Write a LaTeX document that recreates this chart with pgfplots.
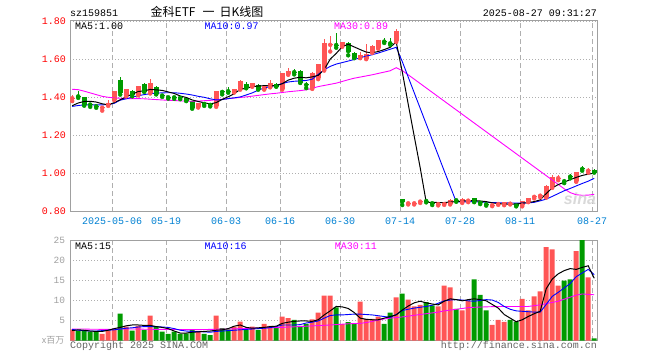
\documentclass[border=0pt]{standalone}
\usepackage{fontspec}
\setmonofont{Liberation Mono}
\setsansfont{Liberation Sans}
\newfontfamily\cjk{Noto Sans CJK SC}
\usepackage{pgfplots}
\pgfplotsset{compat=1.18}
\usepackage{pgfplotstable}
\definecolor{upc}{RGB}{255,85,85}
\definecolor{dnc}{RGB}{0,155,0}
\definecolor{framec}{RGB}{160,160,160}
\definecolor{gridc}{RGB}{175,175,175}
\definecolor{datec}{RGB}{0,128,210}
\definecolor{ma10c}{RGB}{0,0,255}
\definecolor{ma30c}{RGB}{255,0,255}
\definecolor{volc}{RGB}{160,160,160}
\definecolor{footc}{RGB}{100,100,100}
\newcommand\mono{\fontsize{10bp}{12bp}\selectfont\ttfamily}

\pgfplotstableread{
x o h l c u
0 1.395 1.412 1.380 1.395 1
1 1.405 1.435 1.397 1.405 0
2 1.400 1.403 1.356 1.362 0
3 1.362 1.372 1.350 1.362 0
4 1.353 1.360 1.345 1.353 0
5 1.345 1.352 1.330 1.349 1
6 1.360 1.384 1.355 1.367 1
7 1.388 1.430 1.385 1.428 1
8 1.493 1.505 1.414 1.427 0
9 1.409 1.442 1.405 1.440 1
10 1.435 1.440 1.405 1.413 0
11 1.414 1.458 1.410 1.456 1
12 1.470 1.474 1.428 1.432 0
13 1.423 1.497 1.420 1.474 1
14 1.456 1.460 1.415 1.418 0
15 1.409 1.415 1.402 1.409 0
16 1.400 1.408 1.393 1.400 0
17 1.400 1.407 1.392 1.400 0
18 1.397 1.404 1.390 1.397 0
19 1.398 1.402 1.380 1.384 0
20 1.380 1.382 1.340 1.344 0
21 1.350 1.367 1.346 1.365 1
22 1.365 1.372 1.355 1.365 0
23 1.360 1.367 1.352 1.360 0
24 1.356 1.430 1.350 1.428 1
25 1.428 1.440 1.415 1.428 0
26 1.432 1.455 1.424 1.432 0
27 1.428 1.445 1.425 1.440 1
28 1.444 1.492 1.440 1.484 1
29 1.470 1.478 1.447 1.453 0
30 1.458 1.476 1.455 1.472 1
31 1.467 1.470 1.440 1.444 0
32 1.444 1.465 1.440 1.458 1
33 1.455 1.490 1.452 1.472 1
34 1.472 1.476 1.455 1.458 0
35 1.444 1.528 1.440 1.525 1
36 1.521 1.555 1.518 1.535 1
37 1.532 1.548 1.520 1.532 0
38 1.540 1.545 1.475 1.479 0
39 1.465 1.480 1.448 1.465 0
40 1.447 1.530 1.444 1.526 1
41 1.500 1.575 1.495 1.571 1
42 1.546 1.707 1.540 1.683 1
43 1.675 1.720 1.640 1.675 1
44 1.674 1.737 1.660 1.674 0
45 1.668 1.690 1.665 1.686 1
46 1.686 1.690 1.620 1.642 0
47 1.634 1.638 1.605 1.610 0
48 1.610 1.640 1.605 1.621 1
49 1.603 1.677 1.600 1.625 1
50 1.637 1.672 1.633 1.668 1
51 1.660 1.702 1.655 1.698 1
52 1.692 1.712 1.685 1.692 0
53 1.683 1.710 1.675 1.683 0
54 1.695 1.756 1.690 1.747 1
55 0.865 0.866 0.835 0.853 0
56 0.844 0.850 0.838 0.844 1
57 0.844 0.850 0.838 0.844 1
58 0.853 0.860 0.846 0.853 1
59 0.856 0.862 0.849 0.856 0
60 0.844 0.852 0.835 0.844 0
61 0.840 0.846 0.833 0.840 1
62 0.840 0.850 0.836 0.843 1
63 0.842 0.866 0.838 0.861 1
64 0.860 0.866 0.852 0.860 0
65 0.850 0.870 0.846 0.866 1
66 0.858 0.866 0.850 0.858 1
67 0.870 0.874 0.850 0.853 0
68 0.847 0.853 0.840 0.847 0
69 0.839 0.845 0.832 0.839 0
70 0.834 0.840 0.829 0.834 1
71 0.840 0.844 0.836 0.840 1
72 0.837 0.848 0.834 0.847 1
73 0.842 0.846 0.838 0.842 1
74 0.844 0.846 0.828 0.832 0
75 0.833 0.858 0.828 0.855 1
76 0.852 0.872 0.850 0.869 1
77 0.878 0.886 0.870 0.878 1
78 0.884 0.892 0.876 0.884 1
79 0.877 0.940 0.874 0.930 1
80 0.930 0.995 0.925 0.980 1
81 0.976 0.990 0.965 0.976 1
82 0.960 0.970 0.950 0.960 0
83 0.984 0.998 0.975 0.984 0
84 0.960 1.010 0.957 1.005 1
85 1.024 1.038 1.015 1.024 0
86 1.015 1.027 1.005 1.015 1
87 1.019 1.022 1.005 1.008 0
}\candles

\pgfplotstableread{
x m5 m10 m30
0 1.356 1.352 1.442
1 1.370 1.357 1.440
2 1.378 1.360 1.432
3 1.379 1.360 1.423
4 1.375 1.360 1.414
5 1.366 1.360 1.405
6 1.360 1.362 1.400
7 1.372 1.368 1.397
8 1.387 1.385 1.395
9 1.403 1.392 1.393
10 1.416 1.401 1.393
11 1.430 1.408 1.393
12 1.434 1.414 1.392
13 1.441 1.419 1.390
14 1.439 1.422 1.388
15 1.436 1.423 1.386
16 1.428 1.424 1.384
17 1.420 1.424 1.383
18 1.407 1.421 1.381
19 1.399 1.417 1.380
20 1.386 1.412 1.379
21 1.378 1.405 1.380
22 1.371 1.400 1.382
23 1.365 1.392 1.384
24 1.372 1.386 1.387
25 1.389 1.388 1.390
26 1.403 1.393 1.393
27 1.418 1.397 1.396
28 1.442 1.402 1.399
29 1.447 1.412 1.402
30 1.456 1.423 1.406
31 1.459 1.437 1.410
32 1.461 1.449 1.414
33 1.460 1.456 1.418
34 1.461 1.462 1.421
35 1.471 1.472 1.425
36 1.490 1.480 1.429
37 1.500 1.484 1.432
38 1.505 1.486 1.435
39 1.502 1.488 1.439
40 1.507 1.495 1.447
41 1.515 1.520 1.456
42 1.545 1.544 1.462
43 1.600 1.562 1.468
44 1.630 1.574 1.474
45 1.665 1.582 1.483
46 1.678 1.590 1.492
47 1.664 1.598 1.500
48 1.650 1.607 1.506
49 1.637 1.616 1.512
50 1.633 1.623 1.518
51 1.640 1.632 1.525
52 1.650 1.642 1.532
53 1.662 1.652 1.539
54 1.690 1.662 1.555
55 1.535 1.588 1.540
56 1.364 1.506 1.518
57 1.196 1.424 1.495
58 1.030 1.342 1.472
59 0.850 1.260 1.449
60 0.849 1.178 1.426
61 0.848 1.096 1.403
62 0.848 1.014 1.380
63 0.851 0.933 1.357
64 0.853 0.852 1.334
65 0.856 0.851 1.311
66 0.858 0.852 1.288
67 0.858 0.853 1.265
68 0.856 0.851 1.242
69 0.853 0.850 1.219
70 0.846 0.848 1.196
71 0.843 0.847 1.173
72 0.840 0.847 1.150
73 0.840 0.846 1.127
74 0.839 0.845 1.104
75 0.845 0.845 1.081
76 0.848 0.846 1.058
77 0.853 0.849 1.035
78 0.862 0.857 1.012
79 0.895 0.866 0.989
80 0.925 0.880 0.966
81 0.942 0.895 0.943
82 0.955 0.910 0.920
83 0.968 0.922 0.900
84 0.980 0.935 0.889
85 0.990 0.948 0.886
86 0.997 0.960 0.887
87 1.002 0.975 0.891
}\pma

\pgfplotstableread{
x v u vm5 vm10 vm30
0 2.8 1 2.5 2.8 2.9
1 2.5 0 2.7 2.6 2.9
2 2.5 0 2.6 2.5 2.9
3 2.25 0 2.4 2.4 2.85
4 2.25 0 2.3 2.4 2.85
5 1.7 1 2.3 2.5 2.8
6 2.5 1 2.6 2.6 2.8
7 2.8 1 3.0 2.7 2.85
8 6.7 0 3.3 2.9 2.9
9 3.5 1 3.7 3.1 2.9
10 2.5 0 3.9 3.2 2.9
11 3.7 1 3.9 3.4 2.9
12 2.7 0 3.8 3.5 2.85
13 6.2 1 3.8 3.5 2.85
14 3.5 0 3.5 3.5 2.8
15 2.25 0 3.3 3.4 2.8
16 1.7 0 3.0 3.3 2.8
17 2.25 0 2.4 3.0 2.8
18 1.7 0 1.9 2.6 2.78
19 1.8 0 1.9 2.4 2.76
20 2.7 0 2.1 2.3 2.75
21 2.4 1 2.2 2.25 2.75
22 1.7 0 2.3 2.2 2.78
23 1.4 0 2.4 2.1 2.8
24 6.2 1 2.6 2.3 2.85
25 3.1 0 2.7 2.4 2.88
26 2.8 0 3.0 2.5 2.9
27 3.5 1 3.6 2.6 2.95
28 4.75 1 3.9 2.7 3.0
29 2.7 0 3.3 2.8 3.05
30 3.5 1 3.1 2.9 3.1
31 2.7 0 3.2 3.0 3.12
32 4.2 1 3.3 3.1 3.15
33 3.7 1 3.5 3.25 3.2
34 3.1 0 3.6 3.5 3.25
35 6.0 1 4.3 3.9 3.3
36 5.6 1 4.6 3.9 3.4
37 5.2 0 4.8 3.9 3.45
38 3.7 0 4.9 4.0 3.5
39 4.2 0 4.9 4.4 3.6
40 5.3 1 4.8 4.6 3.68
41 7.0 1 5.2 4.9 3.75
42 11.2 1 6.4 5.6 3.82
43 11.2 1 7.4 6.25 3.9
44 8.25 0 8.5 6.4 4.0
45 4.1 1 8.4 6.4 4.1
46 4.6 0 8.0 6.5 4.2
47 4.2 0 7.0 6.6 4.25
48 9.7 1 5.6 6.6 4.3
49 5.4 1 5.3 6.5 4.5
50 5.4 1 5.2 6.4 4.8
51 6.0 1 5.2 6.2 5.1
52 4.2 0 5.6 6.0 5.4
53 7.0 0 6.0 5.8 5.6
54 10.75 1 6.4 6.5 5.75
55 11.7 0 7.6 7.5 5.9
56 10.2 1 8.6 7.8 6.1
57 8.5 1 9.4 8.1 6.3
58 8.9 1 9.8 8.3 6.5
59 9.6 0 9.4 8.5 6.7
60 8.75 0 9.1 8.8 6.9
61 8.5 1 8.9 9.3 7.1
62 13.7 1 9.8 9.9 7.4
63 13.25 1 10.4 10.1 7.6
64 7.9 0 10.2 10.2 7.8
65 7.5 1 9.9 10.1 8.0
66 9.9 1 10.2 9.9 8.2
67 15.2 0 10.4 9.8 8.3
68 11.4 0 10.2 10.0 8.35
69 7.5 0 9.9 10.2 8.4
70 3.9 1 9.0 10.1 8.45
71 5.2 1 8.1 9.5 8.5
72 4.7 1 6.5 8.5 8.5
73 5.2 0 5.6 7.8 8.5
74 4.75 0 4.7 7.4 8.5
75 10.4 1 5.2 7.3 8.5
76 7.5 1 6.0 7.2 8.5
77 11.0 1 6.7 7.1 8.7
78 12.25 1 7.3 7.1 8.9
79 23.25 1 12.9 9.0 9.2
80 22.7 1 15.3 11.0 9.5
81 13.7 1 16.6 12.0 9.8
82 14.9 0 17.4 13.1 10.3
83 15.2 0 17.9 14.2 10.8
84 22.25 1 17.7 15.9 11.3
85 25.0 0 18.2 16.8 11.6
86 15.75 1 18.6 17.7 11.5
87 0.6 0 15.5 16.4 11.4
}\vol

\begin{document}
\begin{tikzpicture}
\useasboundingbox (0,0) rectangle (660bp,360bp);
\pgfplotsset{
  kbase/.style={
    scale only axis, width=527.4bp,
    xmin=-0.317, xmax=87.58,
    axis line style={draw=framec, line width=1bp},
    major tick length=0pt,
    xtick={6.67,15.67,25.67,34.67,44.67,54.67,64.67,74.67,86.67},
    xmajorgrids, ymajorgrids,
    x grid style={gridc, line width=0.8bp, dash pattern=on 5bp off 3bp},
    y grid style={gridc, line width=0.8bp, dash pattern=on 1bp off 2bp},
  }
}
% ---------------- price panel ----------------
\begin{axis}[kbase,
  at={(70.3bp,148.3bp)}, anchor=south west, height=190.7bp,
  ymin=0.8, ymax=1.8,
  xticklabels={2025-05-06,05-19,06-03,06-16,06-30,07-14,07-28,08-11,08-27},
  xticklabel style={font=\mono, text=datec, inner sep=0pt, anchor=north, yshift=-5.5bp},
  ytick={0.8,1.0,1.2,1.4,1.6,1.8},
  yticklabels={0.80,1.00,1.20,1.40,1.60,1.80},
  yticklabel style={font=\mono, text=red, inner sep=0pt, anchor=east, xshift=-4.3bp},
]
% wicks
\addplot[upc, only marks, mark=none, restrict expr to domain={\thisrow{u}}{0.5:1.5},
  error bars/.cd, y dir=plus, y explicit, error mark=none,
  error bar style={line width=1bp, upc}]
  table[x=x, y=l, y error plus expr={\thisrow{h}-\thisrow{l}}] {\candles};
\addplot[dnc, only marks, mark=none, restrict expr to domain={\thisrow{u}}{-0.5:0.5},
  error bars/.cd, y dir=plus, y explicit, error mark=none,
  error bar style={line width=1bp, dnc}]
  table[x=x, y=l, y error plus expr={\thisrow{h}-\thisrow{l}}] {\candles};
% bodies
\addplot[upc, only marks, mark=none, restrict expr to domain={\thisrow{u}}{0.5:1.5},
  error bars/.cd, y dir=plus, y explicit, error mark=none,
  error bar style={line width=5bp, upc}]
  table[x=x, y=o, y error plus expr={\thisrow{c}-\thisrow{o}}] {\candles};
\addplot[dnc, only marks, mark=none, restrict expr to domain={\thisrow{u}}{-0.5:0.5},
  error bars/.cd, y dir=plus, y explicit, error mark=none,
  error bar style={line width=5bp, dnc}]
  table[x=x, y=c, y error plus expr={\thisrow{o}-\thisrow{c}}] {\candles};
% doji bars
\addplot[only marks, mark=-, mark size=2.5bp, mark options={upc, line width=1bp},
  restrict expr to domain={\thisrow{u}}{0.5:1.5}] table[x=x, y=c] {\candles};
\addplot[only marks, mark=-, mark size=2.5bp, mark options={dnc, line width=1bp},
  restrict expr to domain={\thisrow{u}}{-0.5:0.5}] table[x=x, y=c] {\candles};
% moving averages
\addplot[ma30c, line width=0.9bp, mark=none] table[x=x, y=m30] {\pma};
\addplot[ma10c, line width=0.9bp, mark=none] table[x=x, y=m10] {\pma};
\addplot[black, line width=1bp, mark=none] table[x=x, y=m5] {\pma};
\end{axis}

% ---------------- volume panel ----------------
\begin{axis}[kbase,
  at={(70.3bp,19.3bp)}, anchor=south west, height=100.7bp,
  ymin=0, ymax=25,
  xticklabels={},
  ytick={5,10,15,20,25},
  yticklabels={5,10,15,20,25},
  yticklabel style={font=\fontsize{9.5bp}{11bp}\selectfont\ttfamily, text=volc, inner sep=0pt, anchor=east, xshift=-5bp},
]
\addplot[ybar, bar width=5bp, bar shift=0pt, fill=upc, draw=none,
  restrict expr to domain={\thisrow{u}}{0.5:1.5}] table[x=x, y=v] {\vol};
\addplot[ybar, bar width=5bp, bar shift=0pt, fill=dnc, draw=none,
  restrict expr to domain={\thisrow{u}}{-0.5:0.5}] table[x=x, y=v] {\vol};
\addplot[ma30c, line width=0.9bp, mark=none] table[x=x, y=vm30] {\vol};
\addplot[ma10c, line width=0.9bp, mark=none] table[x=x, y=vm10] {\vol};
\addplot[black, line width=1bp, mark=none] table[x=x, y=vm5] {\vol};
\end{axis}

% ---------------- texts ----------------
\node[anchor=base west, font=\mono, inner sep=0pt] at (70bp,343.4bp) {sz159851};
\node[anchor=base west, font={\fontsize{12bp}{14bp}\selectfont\cjk}, inner sep=0pt] at (150.5bp,343.4bp) {金科ETF\hspace{7bp}一\hspace{5bp}日K线图};
\node[anchor=base east, font=\mono, inner sep=0pt] at (597bp,343.4bp) {2025-08-27 09:31:27};

\node[anchor=base west, font=\mono, inner sep=0pt] at (75bp,330bp) {MA5:1.00};
\node[anchor=base west, font=\mono, text=ma10c, inner sep=0pt] at (204.3bp,330bp) {MA10:0.97};
\node[anchor=base west, font=\mono, text=ma30c, inner sep=0pt] at (334bp,330bp) {MA30:0.89};

\node[anchor=base west, font=\mono, inner sep=0pt] at (75bp,110bp) {MA5:15};
\node[anchor=base west, font=\mono, text=ma10c, inner sep=0pt] at (204.3bp,110bp) {MA10:16};
\node[anchor=base west, font=\mono, text=ma30c, inner sep=0pt] at (334.7bp,110bp) {MA30:11};

\node[anchor=east, font={\fontsize{9bp}{10bp}\selectfont\cjk}, text=volc, inner sep=0pt] at (64.5bp,19.3bp) {x百万};

\node[anchor=base west, font=\mono, text=footc, inner sep=0pt] at (70bp,12bp) {Copyright 2025 SINA.COM};
\node[anchor=base east, font=\mono, text=footc, inner sep=0pt] at (597bp,12bp) {http://finance.sina.com.cn};

\node[font={\fontsize{16bp}{16bp}\selectfont\sffamily\bfseries\itshape}, text=gray!30, inner sep=0pt] at (580bp,161bp) {sina};
\end{tikzpicture}
\end{document}
